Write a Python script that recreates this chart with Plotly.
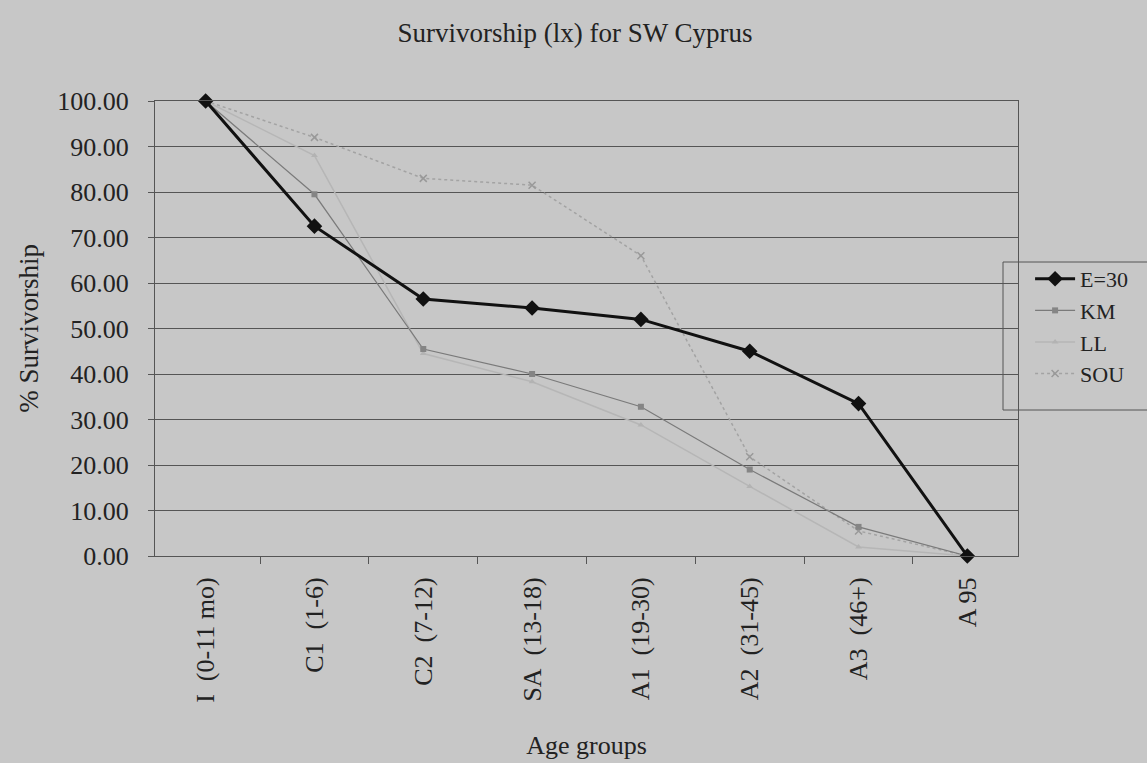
import plotly.graph_objects as go

categories = ["I\u00a0\u00a0(0-11 mo)", "C1\u00a0\u00a0(1-6)", "C2\u00a0\u00a0(7-12)", "SA\u00a0\u00a0(13-18)",
              "A1\u00a0\u00a0(19-30)", "A2\u00a0\u00a0(31-45)", "A3\u00a0\u00a0(46+)", "A 95"]
e30 = [100, 72.5, 56.5, 54.5, 52.0, 45.0, 33.5, 0]
km = [100, 79.5, 45.5, 40.0, 32.8, 19.0, 6.4, 0]
ll = [100, 88.0, 44.5, 38.3, 28.8, 15.3, 2.0, 0]
sou = [100, 92.0, 83.0, 81.5, 66.0, 21.8, 5.5, 0]

BG = "#c7c7c7"
FONT = "Liberation Serif"
TXT = "#222222"

fig = go.Figure()
fig.add_trace(go.Scatter(x=categories, y=sou, name="SOU", mode="lines+markers",
                         line=dict(color="#a3a3a3", width=1.5, dash="dot"),
                         marker=dict(symbol="x-thin", size=7, line=dict(color="#999999", width=1.5)),
                         cliponaxis=False))
fig.add_trace(go.Scatter(x=categories, y=ll, name="LL", mode="lines+markers",
                         line=dict(color="#b6b6b6", width=1.5),
                         marker=dict(symbol="triangle-up", size=6, color="#b3b3b3"),
                         cliponaxis=False))
fig.add_trace(go.Scatter(x=categories, y=km, name="KM", mode="lines+markers",
                         line=dict(color="#7a7a7a", width=1.2),
                         marker=dict(symbol="square", size=6, color="#858585"),
                         cliponaxis=False))
fig.add_trace(go.Scatter(x=categories, y=e30, name="E=30", mode="lines+markers",
                         line=dict(color="#111111", width=3),
                         marker=dict(symbol="diamond", size=12, color="#111111"),
                         cliponaxis=False))

fig.update_layout(
    width=1147, height=763,
    paper_bgcolor=BG, plot_bgcolor=BG,
    margin=dict(l=155, r=129, t=101, b=207),
    font=dict(family=FONT, size=26, color=TXT),
    title=dict(text="Survivorship (lx) for SW Cyprus", x=0.4867, xref="paper", xanchor="center",
               y=0.957, yanchor="middle", font=dict(family=FONT, size=27, color=TXT)),
    showlegend=True,
    legend=dict(x=1.014, y=0.655, xanchor="left", yanchor="top", traceorder="reversed",
                bgcolor="rgba(0,0,0,0)", borderwidth=0,
                font=dict(family=FONT, size=22, color=TXT), itemwidth=40,
                tracegroupgap=0),
    shapes=[dict(type="rect", xref="paper", yref="paper",
                 x0=(1003 - 155) / 863, x1=(1165 - 155) / 863,
                 y0=(556 - 410) / 455, y1=(556 - 262) / 455,
                 line=dict(color="#555555", width=1), fillcolor="rgba(0,0,0,0)",
                 layer="below")],
)
fig.update_xaxes(type="category", tickangle=-90, tickson="boundaries",
                 ticks="outside", ticklen=7, tickcolor="#555555",
                 showline=True, linecolor="#555555", linewidth=1, mirror=True,
                 showgrid=False, automargin=False, ticklabelstandoff=10,
                 title=dict(text="Age groups", font=dict(family=FONT, size=26), standoff=33),
                 tickfont=dict(family=FONT, size=26))
fig.update_yaxes(range=[0, 100], dtick=10, tickformat=".2f",
                 ticks="outside", ticklen=6, tickcolor="#555555",
                 showline=True, linecolor="#555555", linewidth=1, mirror=True,
                 showgrid=True, gridcolor="#555555", gridwidth=1, zeroline=False,
                 automargin=False, ticklabelstandoff=14,
                 title=dict(text="% Survivorship", font=dict(family=FONT, size=27), standoff=10),
                 tickfont=dict(family=FONT, size=26))

fig.write_html("out.html")
